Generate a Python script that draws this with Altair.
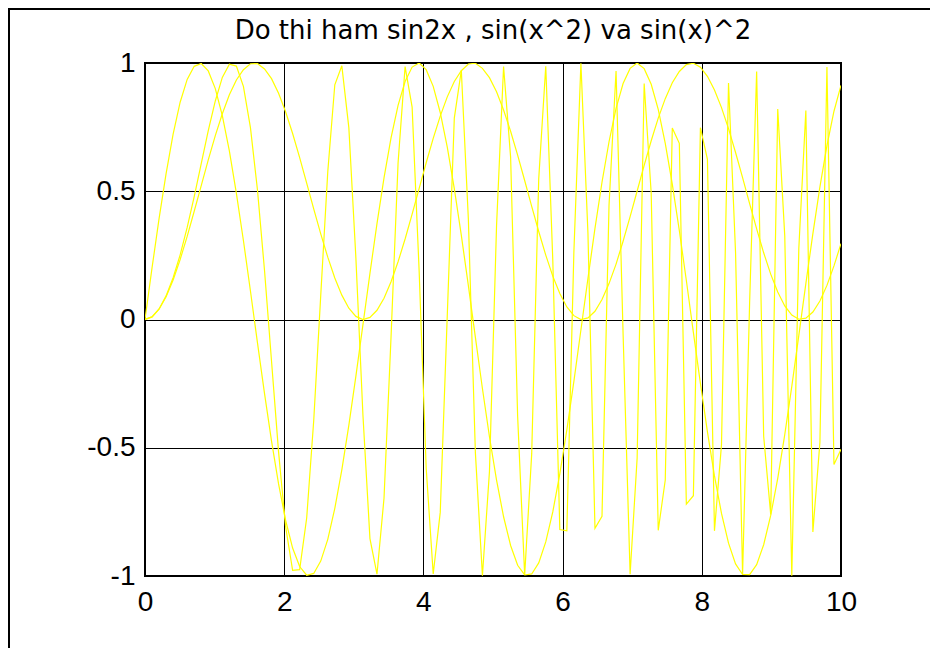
import altair as alt
import pandas as pd

title_text = "Do thi ham sin2x , sin(x^2) va sin(x)^2"

x_vals = [0, 0.101, 0.202, 0.303, 0.404, 0.505, 0.606, 0.707, 0.808, 0.909,
          1.010, 1.111, 1.212, 1.313, 1.414, 1.515, 1.616, 1.717, 1.818, 1.919,
          2.020, 2.121, 2.222, 2.323, 2.424, 2.525, 2.626, 2.727, 2.828, 2.929,
          3.030, 3.131, 3.232, 3.333, 3.434, 3.535, 3.636, 3.737, 3.838, 3.939,
          4.040, 4.141, 4.242, 4.343, 4.444, 4.545, 4.646, 4.747, 4.848, 4.949,
          5.051, 5.152, 5.253, 5.354, 5.455, 5.556, 5.657, 5.758, 5.859, 5.960,
          6.061, 6.162, 6.263, 6.364, 6.465, 6.566, 6.667, 6.768, 6.869, 6.970,
          7.071, 7.172, 7.273, 7.374, 7.475, 7.576, 7.677, 7.778, 7.879, 7.980,
          8.081, 8.182, 8.283, 8.384, 8.485, 8.586, 8.687, 8.788, 8.889, 8.990,
          9.091, 9.192, 9.293, 9.394, 9.495, 9.596, 9.697, 9.798, 9.899, 10.0]

sin2x_vals = [0, 0.201, 0.393, 0.569, 0.723, 0.847, 0.936, 0.987, 0.998, 0.969,
              0.900, 0.795, 0.657, 0.492, 0.308, 0.111, -0.091, -0.288, -0.474, -0.641,
              -0.782, -0.891, -0.963, -0.997, -0.990, -0.942, -0.857, -0.736, -0.586, -0.412,
              -0.221, -0.021, 0.180, 0.374, 0.552, 0.708, 0.835, 0.928, 0.984, 1.000,
              0.974, 0.909, 0.807, 0.672, 0.510, 0.328, 0.132, -0.070, -0.269, -0.457,
              -0.626, -0.769, -0.881, -0.958, -0.996, -0.992, -0.949, -0.867, -0.750, -0.602,
              -0.430, -0.241, -0.041, 0.160, 0.355, 0.535, 0.693, 0.823, 0.920, 0.979,
              1.000, 0.978, 0.917, 0.819, 0.687, 0.528, 0.347, 0.152, -0.050, -0.249,
              -0.438, -0.610, -0.756, -0.872, -0.953, -0.994, -0.995, -0.956, -0.878, -0.764,
              -0.619, -0.449, -0.261, -0.062, 0.140, 0.335, 0.517, 0.678, 0.812, 0.913]

sinxsq_vals = [0, 0.010, 0.041, 0.092, 0.163, 0.252, 0.359, 0.479, 0.608, 0.736,
               0.852, 0.944, 0.995, 0.988, 0.909, 0.748, 0.505, 0.192, -0.163, -0.516,
               -0.807, -0.978, -0.975, -0.774, -0.395, 0.094, 0.576, 0.915, 0.989, 0.747,
               0.240, -0.371, -0.854, -0.993, -0.697, -0.068, 0.610, 0.986, 0.828, 0.188,
               -0.579, -0.992, -0.752, 0.016, 0.785, 0.971, 0.391, -0.520, -0.999, -0.593,
               0.366, 0.986, 0.633, -0.377, -0.996, -0.524, 0.549, 0.987, 0.232, -0.819,
               -0.824, 0.263, 0.999, 0.338, -0.814, -0.767, 0.446, 0.969, -0.055, -0.993,
               -0.540, 0.920, 0.492, -0.822, -0.626, 0.747, 0.687, -0.720, -0.687, 0.748,
               0.624, -0.824, -0.488, 0.922, 0.261, -0.994, 0.064, 0.967, -0.455, -0.760,
               0.821, 0.326, -0.999, 0.278, 0.815, -0.828, -0.479, 0.984, -0.565, -0.506]

sinsqx_vals = [0, 0.010, 0.040, 0.089, 0.154, 0.234, 0.324, 0.422, 0.522, 0.622,
               0.717, 0.802, 0.876, 0.934, 0.974, 0.997, 0.998, 0.977, 0.939, 0.882,
               0.810, 0.725, 0.631, 0.532, 0.431, 0.334, 0.243, 0.162, 0.095, 0.044,
               0.012, 0.000, 0.008, 0.036, 0.083, 0.147, 0.225, 0.314, 0.411, 0.511,
               0.611, 0.706, 0.793, 0.868, 0.928, 0.970, 0.996, 0.999, 0.979, 0.943,
               0.888, 0.817, 0.734, 0.641, 0.542, 0.441, 0.343, 0.251, 0.169, 0.101,
               0.049, 0.015, 0.000, 0.006, 0.032, 0.078, 0.140, 0.216, 0.305, 0.401,
               0.501, 0.601, 0.697, 0.785, 0.861, 0.923, 0.967, 0.994, 0.999, 0.984,
               0.948, 0.895, 0.826, 0.744, 0.651, 0.553, 0.452, 0.353, 0.260, 0.177,
               0.107, 0.053, 0.017, 0.001, 0.005, 0.029, 0.072, 0.133, 0.209, 0.296]

x_ticks = [0, 2, 4, 6, 8, 10]
y_ticks = [-1, -0.5, 0, 0.5, 1]

series = {"sin(2x)": sin2x_vals, "sin(x^2)": sinxsq_vals, "sin(x)^2": sinsqx_vals}
rows = []
for name, vals in series.items():
    for xv, yv in zip(x_vals, vals):
        rows.append({"x": xv, "y": yv, "series": name})
df = pd.DataFrame(rows)

label_font = "Liberation Sans"

lines = alt.Chart(df).mark_line(color="#ffff00", strokeWidth=1.2, clip=True).encode(
    x=alt.X("x:Q",
            scale=alt.Scale(domain=[0, 10], nice=False, zero=False),
            axis=alt.Axis(values=x_ticks, title=None, grid=True, gridColor="black",
                          gridWidth=1, gridOpacity=1, ticks=False, tickSize=0, domain=False,
                          labelFont=label_font, labelFontSize=28, labelColor="black",
                          labelPadding=12, labelFlush=False, labelOverlap=False,
                          labelExpr="'' + datum.value")),
    y=alt.Y("y:Q",
            scale=alt.Scale(domain=[-1, 1], nice=False, zero=False),
            axis=alt.Axis(values=y_ticks, title=None, grid=True, gridColor="black",
                          gridWidth=1, gridOpacity=1, ticks=False, tickSize=0, domain=False,
                          labelFont=label_font, labelFontSize=28, labelColor="black",
                          labelPadding=10, labelFlush=False, labelOverlap=False,
                          labelExpr="'' + datum.value")),
    detail="series:N",
)

dummy = pd.DataFrame({"t": [title_text]})

title = alt.Chart(dummy).mark_text(
    font="DejaVu Sans", fontSize=26, align="center", baseline="alphabetic", color="black"
).encode(text="t:N", x=alt.value(348), y=alt.value(-24))

border = alt.Chart(dummy).mark_rect(
    fill="transparent", stroke="black", strokeWidth=2
).encode(x=alt.value(-136), x2=alt.value(790), y=alt.value(-54), y2=alt.value(590))

chart = alt.layer(border, lines, title).properties(
    width=696, height=513,
    autosize=alt.AutoSizeParams(type="none"),
    padding={"left": 137, "top": 55, "right": 89, "bottom": 72},
    background="white",
).configure_view(stroke="black", strokeWidth=2)

chart.save("out.html", embed_options={"renderer": "svg", "actions": False})
